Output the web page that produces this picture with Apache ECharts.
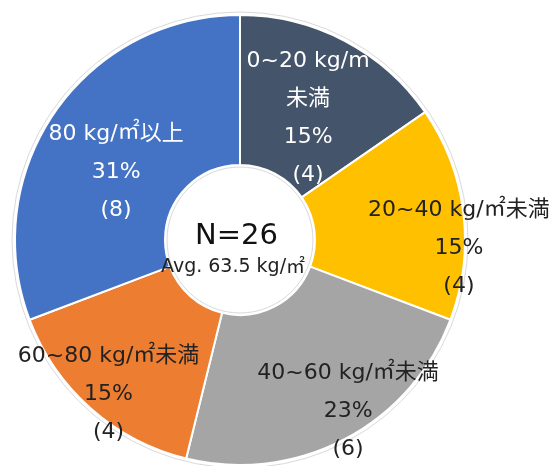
<!DOCTYPE html>
<html>
<head>
<meta charset="utf-8">
<script src="https://cdn.jsdelivr.net/npm/echarts@6/dist/echarts.min.js"></script>
<style>
html,body{margin:0;padding:0;background:#fff;}
#main{width:550px;height:466px;}
</style>
</head>
<body>
<div id="main"></div>
<script>
const categories = ['0~20 kg/m\n未満', '20~40 kg/㎡未満', '40~60 kg/㎡未満', '60~80 kg/㎡未満', '80 kg/㎡以上'];
const counts = [4, 4, 6, 4, 8];
const colors = ['#44546A', '#FFC000', '#A5A5A5', '#ED7D31', '#4472C4'];
const labelColors = ['#ffffff', '#222222', '#222222', '#222222', '#ffffff'];
const centerTitle = 'N=26';
const centerSub = 'Avg. 63.5 kg/㎡';
const labelShift = [[-3, 14], [67, 27], [37, 36], [-30, 40], [2, 19]];

const total = counts.reduce((a, b) => a + b, 0);
const FONT = '"DejaVu Sans", "Noto Sans CJK JP", sans-serif';
const CJK = '"Noto Sans CJK JP", sans-serif';
const wrapUnit = s => s.split('㎡').join('{u|㎡}');

const chart = echarts.init(document.getElementById('main'), null, {renderer: 'canvas'});
chart.setOption({
  backgroundColor: '#ffffff',
  animation: false,
  series: [
    {
      type: 'pie',
      silent: true,
      radius: [73, 228],
      center: [240, 240],
      label: {show: false},
      labelLine: {show: false},
      itemStyle: {color: 'rgba(0,0,0,0)', borderColor: '#d9d9d9', borderWidth: 1},
      data: [{value: 1, name: 'bg'}],
      z: 1
    },
    {
      type: 'pie',
      radius: [75, 225],
      center: [240, 240],
      startAngle: 90,
      clockwise: true,
      z: 2,
      itemStyle: {borderColor: '#ffffff', borderWidth: 2},
      label: {
        show: true,
        position: 'inside',
        fontFamily: FONT,
        fontSize: 22,
        lineHeight: 38,
        align: 'center',
        rich: {
          u: {fontFamily: CJK, fontSize: 22, verticalAlign: 'top', padding: [4, 0, 0, 0]}
        },
        formatter: function (p) {
          const pct = Math.round(p.value / total * 100);
          return wrapUnit(categories[p.dataIndex]) + '\n' + pct + '%\n(' + p.value + ')';
        }
      },
      labelLine: {show: false},
      labelLayout: function (p) {
        const s = labelShift[p.dataIndex];
        return {dx: s[0], dy: s[1]};
      },
      data: counts.map((v, i) => ({
        value: v,
        name: categories[i],
        itemStyle: {color: colors[i]},
        label: {color: labelColors[i]}
      }))
    }
  ],
  graphic: [
    {
      type: 'text',
      left: 195,
      top: 222,
      style: {text: centerTitle, font: '29px ' + FONT, fill: '#111'},
      z: 10
    },
    {
      type: 'text',
      left: 161,
      top: 255,
      style: {
        text: wrapUnit(centerSub),
        fontFamily: FONT,
        fontSize: 19,
        lineHeight: 24,
        fill: '#222',
        rich: {u: {fontFamily: CJK, fontSize: 19, verticalAlign: 'top', padding: [1, 0, 0, 0], fill: '#222'}}
      },
      z: 10
    }
  ]
});
</script>
</body>
</html>
